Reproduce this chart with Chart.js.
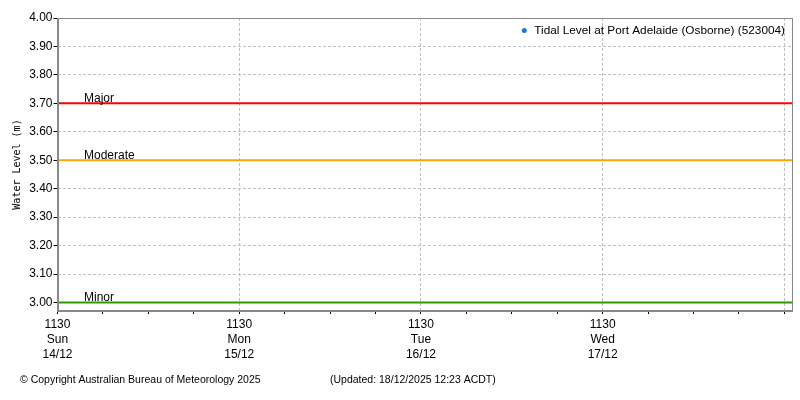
<!DOCTYPE html>
<html>
<head>
<meta charset="utf-8">
<script src="https://cdn.jsdelivr.net/npm/chart.js@4"></script>
<style>
html,body{margin:0;padding:0;background:#fff;}
#wrap{width:800px;height:400px;position:relative;}
</style>
</head>
<body>
<div id="wrap"><canvas id="c"></canvas></div>
<script>
// Data (hours since 11:30 Sun 14/12)
const seriesLabel = "Tidal Level at Port Adelaide (Osborne) (523004)";
const tidalX = [];
const tidalY = [];
const xTickHours = [0,6,12,18,24,30,36,42,48,54,60,66,72,78,84,90,96];
const xTickLabels = {0:["1130","Sun","14/12"],24:["1130","Mon","15/12"],48:["1130","Tue","16/12"],72:["1130","Wed","17/12"]};
const xMin = 0, xMax = 97;
const yTicks = [3.00,3.10,3.20,3.30,3.40,3.50,3.60,3.70,3.80,3.90,4.00];
const yMin = 2.97, yMax = 4.00;
const thresholdNames = ["Major","Moderate","Minor"];
const thresholdValues = [3.70,3.50,3.00];
const thresholdColors = ["#ff0000","#ffa500","#2e9a00"];
const footerLeft = "\u00A9 Copyright Australian Bureau of Meteorology 2025";
const footerRight = "(Updated: 18/12/2025 12:23 ACDT)";

const FONT = "'Liberation Sans', Arial, sans-serif";

const datasets = [{
  label: seriesLabel,
  data: tidalX.map((x,i)=>({x:x,y:tidalY[i]})),
  borderColor: "#1f77d4",
  backgroundColor: "#1f77d4",
  pointRadius: 0,
  borderWidth: 1
}];
thresholdNames.forEach((n,i)=>{
  datasets.push({
    label: n,
    data: [{x:xMin,y:thresholdValues[i]},{x:xMax,y:thresholdValues[i]}],
    borderColor: thresholdColors[i],
    backgroundColor: thresholdColors[i],
    borderWidth: 2,
    pointRadius: 0
  });
});

const extras = {
  id: "extras",
  afterDatasetsDraw(chart) {
    const {ctx, chartArea: a, scales: {x, y}} = chart;
    ctx.save();
    // frame
    ctx.strokeStyle = "#888888";
    ctx.lineWidth = 1;
    ctx.strokeRect(Math.round(a.left)+0.5, Math.round(a.top)+0.5, Math.round(a.right-a.left)-1, Math.round(a.bottom-a.top)-1);
    // threshold labels
    ctx.fillStyle = "#000";
    ctx.font = "12px " + FONT;
    ctx.textBaseline = "bottom";
    ctx.textAlign = "left";
    thresholdNames.forEach((n,i)=>{
      ctx.fillText(n, x.getPixelForValue(3.5), y.getPixelForValue(thresholdValues[i]) + 1);
    });
    // legend
    ctx.font = "11.8px " + FONT;
    ctx.textAlign = "right";
    ctx.textBaseline = "middle";
    const ly = a.top + 12.5;
    const lx = a.right - 7;
    ctx.fillText(seriesLabel, lx, ly);
    const w = ctx.measureText(seriesLabel).width;
    ctx.fillStyle = datasets[0].backgroundColor;
    ctx.beginPath();
    ctx.arc(lx - w - 10, ly, 2.5, 0, Math.PI*2);
    ctx.fill();
    // footer
    ctx.fillStyle = "#000";
    ctx.font = "10.5px " + FONT;
    ctx.textAlign = "left";
    ctx.textBaseline = "middle";
    ctx.fillText(footerLeft, 20, 380);
    ctx.fillText(footerRight, 330, 380);
    ctx.restore();
  }
};

new Chart(document.getElementById("c"), {
  type: "line",
  data: { datasets },
  options: {
    responsive: true,
    maintainAspectRatio: false,
    animation: false,
    layout: { padding: { top: 18, right: 8, left: 0, bottom: 0 } },
    plugins: { legend: { display: false }, tooltip: { enabled: false } },
    scales: {
      x: {
        type: "linear",
        min: xMin, max: xMax,
        afterBuildTicks(s) { s.ticks = xTickHours.map(v=>({value:v})); },
        afterFit(s) { s.height = 89; },
        ticks: {
          autoSkip: false, maxRotation: 0, padding: 3,
          color: "#000",
          font: { family: FONT, size: 12, lineHeight: "15px" },
          callback: (v) => xTickLabels[v] || ""
        },
        grid: {
          color: (c) => (c.tick && c.tick.value % 24 === 0 && c.tick.value !== 0) ? "#c0c0c0" : "rgba(0,0,0,0)",
          tickColor: "#000",
          tickLength: 3,
          tickBorderDash: [],
          lineWidth: 1
        },
        border: { display: true, color: "#888888", width: 1, dash: [3,2] }
      },
      y: {
        type: "linear",
        min: yMin, max: yMax,
        afterBuildTicks(s) { s.ticks = yTicks.map(v=>({value:v})); },
        afterFit(s) { s.width = 57.5; },
        ticks: {
          padding: 1, color: "#000",
          font: { family: FONT, size: 12 },
          callback: (v) => v.toFixed(2)
        },
        grid: {
          color: "#c0c0c0",
          tickColor: "#000",
          tickLength: 4,
          tickBorderDash: [],
          lineWidth: 1
        },
        border: { display: true, color: "#888888", width: 1, dash: [3,2] },
        title: {
          display: true, text: "Water Level (m)", color: "#000",
          font: { family: "'DejaVu Sans Mono', monospace", size: 10 },
          padding: { top: 11, bottom: 2 }
        }
      }
    }
  },
  plugins: [extras]
});
</script>
</body>
</html>
